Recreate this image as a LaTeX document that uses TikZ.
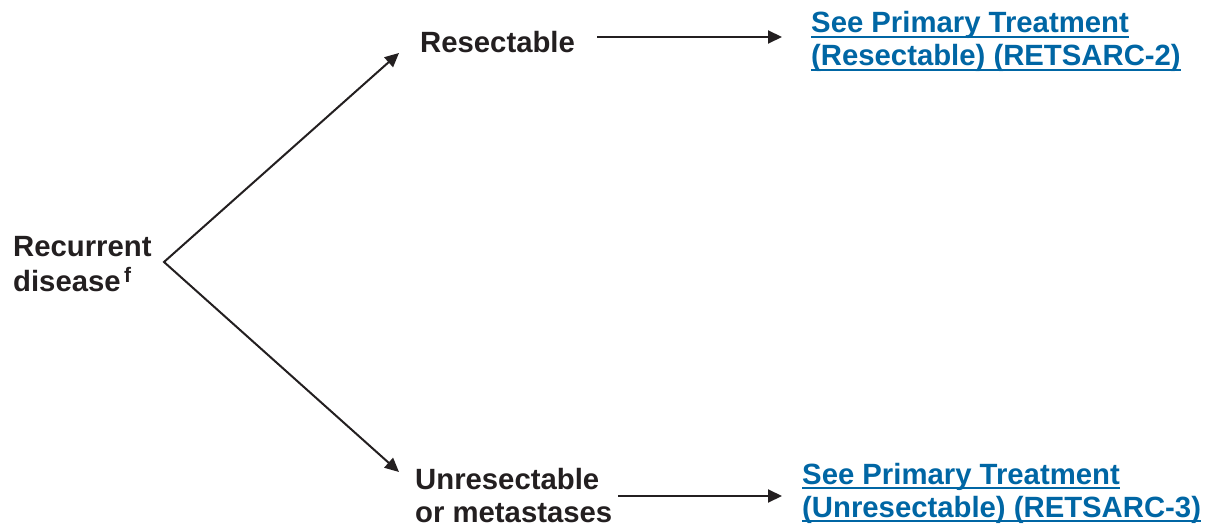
\documentclass[tikz,border=0pt]{standalone}
\usepackage{fontspec}
\setmainfont{Liberation Sans}
\usetikzlibrary{arrows.meta}
\definecolor{ink}{RGB}{35,31,32}
\definecolor{linkblue}{RGB}{0,102,164}
\tikzset{
  lbl/.style={anchor=base west, inner sep=0pt, text=ink, font=\fontsize{29.3}{34}\selectfont\bfseries},
  lnk/.style={anchor=base west, inner sep=0pt, text=linkblue, font=\fontsize{29.3}{34}\selectfont\bfseries},
  conn/.style={draw=ink, line width=2pt, -{Triangle[length=14pt,width=13pt]}},
  fork/.style={draw=ink, line width=2pt, {Triangle[length=14pt,width=13pt]}-{Triangle[length=14pt,width=13pt]}},
  uline/.style={draw=linkblue, line width=2pt},
}
\begin{document}
\begin{tikzpicture}[x=1pt,y=-1pt]
\useasboundingbox (0,0) rectangle (1205,526);
% left
\node[lbl] (rec1) at (13,257) {Recurrent};
\node[lbl] (rec2) at (13,292) {disease{\fontsize{21}{21}\selectfont\raisebox{9pt}{\,f}}};
\coordinate (apex) at (164,262);
% middle
\node[lbl] (res) at (420,53) {Resectable};
\node[lbl] (unr1) at (415,489) {Unresectable};
\node[lbl] (unr2) at (415,522) {or metastases};
\coordinate (upin) at (399,53);
\coordinate (lowin) at (399,472);
% links
\node[lnk] (l1a) at (811,33) {See Primary Treatment};
\node[lnk] (l1b) at (811,66) {(Resectable) (RETSARC-2)};
\node[lnk] (l2a) at (802,484) {See Primary Treatment};
\node[lnk] (l2b) at (802,517) {(Unresectable) (RETSARC-3)};
\draw[uline] ([yshift=-4pt]l1a.base west) -- ([yshift=-4pt]l1a.base east);
\draw[uline] ([yshift=-4pt]l1b.base west) -- ([yshift=-4pt]l1b.base east);
\draw[uline] ([yshift=-4pt]l2a.base west) -- ([yshift=-4pt]l2a.base east);
\draw[uline] ([yshift=-4pt]l2b.base west) -- ([yshift=-4pt]l2b.base east);
% connectors
\draw[fork] (upin) -- (apex) -- (lowin);
\coordinate (t1) at (597,37);
\coordinate (t2) at (782,37);
\coordinate (b1) at (618,496);
\coordinate (b2) at (782,496);
\draw[conn] (t1) -- (t2);
\draw[conn] (b1) -- (b2);
\end{tikzpicture}
\end{document}
